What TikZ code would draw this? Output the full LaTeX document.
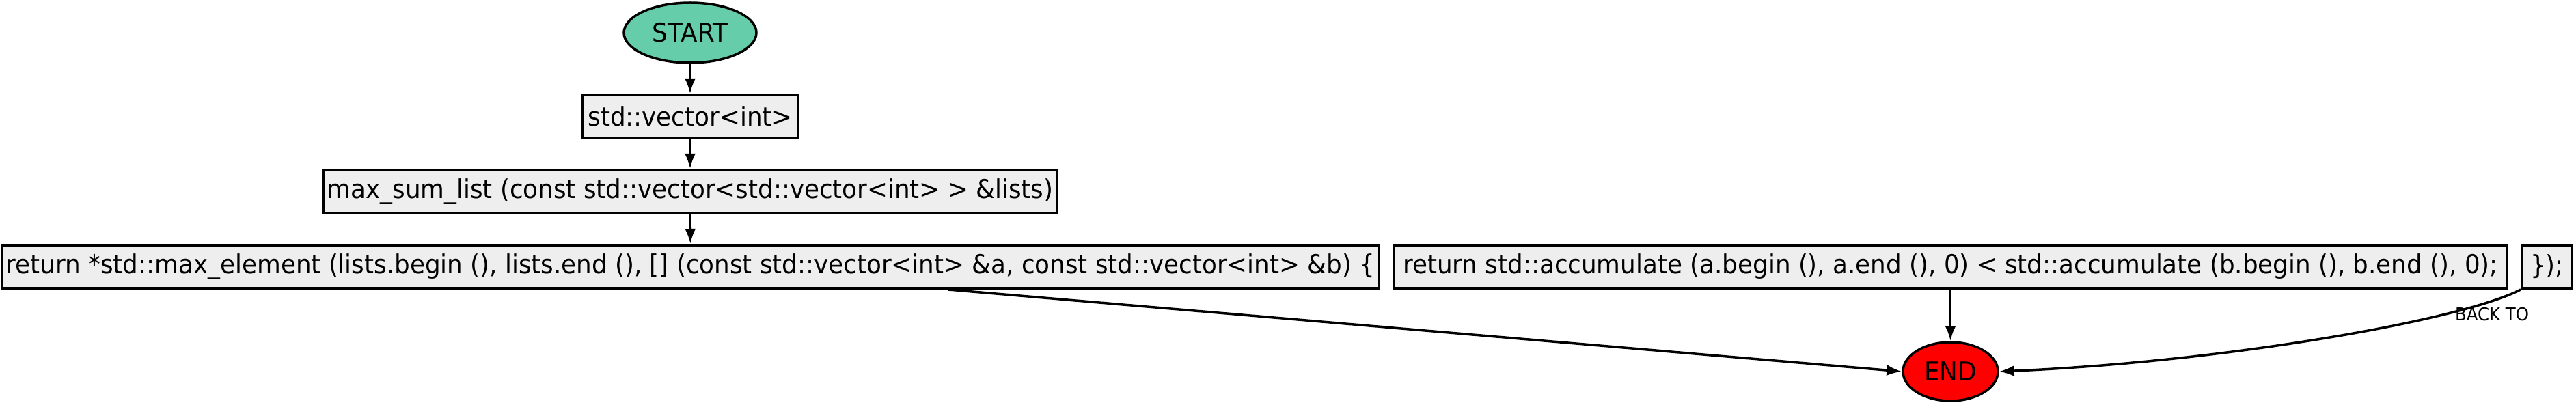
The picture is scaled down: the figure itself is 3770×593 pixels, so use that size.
\documentclass[tikz,border=0pt]{standalone}
\usepackage{fontspec}
\setmainfont{DejaVu Sans}[FakeStretch=0.94]
\usetikzlibrary{arrows.meta,shapes.geometric,calc}
\definecolor{startc}{HTML}{66CDAA}
\definecolor{boxc}{HTML}{EEEEEE}
\definecolor{endc}{HTML}{FF0000}
\tikzset{
  stmt/.style={draw=black, fill=boxc, line width=4pt, rectangle, minimum height=63, inner sep=0pt, font=\fontsize{38}{44}\selectfont},
  term/.style={draw=black, ellipse, line width=3.5pt, inner sep=0pt, font=\fontsize{38}{44}\selectfont},
  edge/.style={line width=3.5pt, -{Latex[length=22pt,width=16pt]}},
  lbl/.style={inner sep=0pt, font=\fontsize{26}{30}\selectfont}
}
\begin{document}
\begin{tikzpicture}[x=1pt,y=-1pt]
\useasboundingbox (0,0) rectangle (3770,593);
\node[term, fill=startc, minimum width=194, minimum height=88] (start) at (1010,48) {START};
\node[stmt, minimum width=315] (b1) at (1010,170.5) {std::vector<int>};
\node[stmt, minimum width=1074] (b2) at (1010,280.5) {max\_sum\_list (const std::vector<std::vector<int> > \&lists)};
\node[stmt, minimum width=2015] (b3) at (1010.5,390.5) {return *std::max\_element (lists.begin (), lists.end (), [] (const std::vector<int> \&a, const std::vector<int> \&b) \{};
\node[stmt, minimum width=1629] (b4) at (2854.5,390.5) {return std::accumulate (a.begin (), a.end (), 0) < std::accumulate (b.begin (), b.end (), 0);};
\node[stmt, minimum width=73] (b5) at (3727.5,390.5) {\});};
\node[term, fill=endc, minimum width=139, minimum height=86] (end) at (2854.5,544) {END};
\node[lbl] (back) at (3647,460) {BACK TO};
\draw[edge] (start) -- (b1);
\draw[edge] (b1) -- (b2);
\draw[edge] (b2) -- (b3);
\draw[edge] ($(b3.south west)!0.687!(b3.south east)$) -- (end.west);
\draw[edge] (b4) -- (end);
\draw[edge] (b5.south west) .. controls (3600,470) and (3250,530) .. (end.east);
\end{tikzpicture}
\end{document}
